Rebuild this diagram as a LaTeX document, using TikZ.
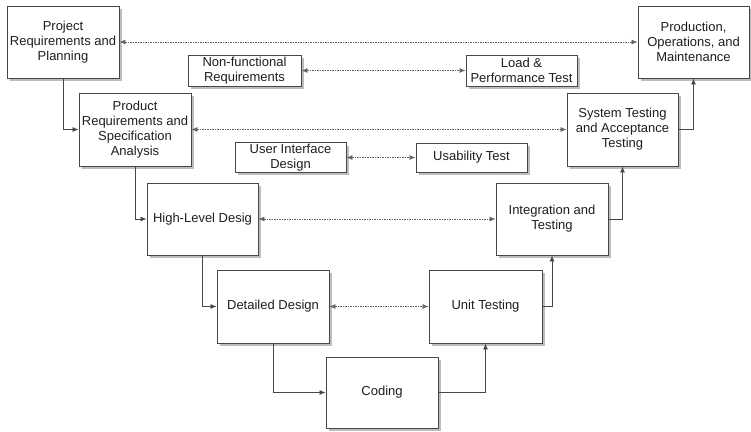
\documentclass[tikz,border=0pt]{standalone}
\usepackage{fontspec}
\setmainfont{Liberation Sans}
\usetikzlibrary{arrows.meta,shadows}
\definecolor{edge}{HTML}{474747}
\definecolor{shade}{HTML}{BDBDBD}
\definecolor{ink}{HTML}{1E1E1E}
\tikzset{
  stage/.style={draw=edge, line width=0.95pt, fill=white, rectangle, inner sep=1pt,
    align=center, text=ink, font=\fontsize{13}{15}\selectfont,
    drop shadow={shadow xshift=2.6pt, shadow yshift=-2.6pt, fill=shade, opacity=1}},
  tip/.style={Latex[length=6pt,width=5pt]},
  flow/.style={draw=edge, line width=0.8pt, -{Latex[length=6pt,width=5pt]}},
  link/.style={draw=edge!85, line width=0.7pt, dash pattern=on 1.6pt off 0.9pt,
    {Latex[length=6pt,width=5pt]}-{Latex[length=6pt,width=5pt]}}
}
% a box from its left, top, right and bottom edges
\newcommand\stagebox[6]{%
  \node[stage, minimum width={#4-#2}, minimum height={#5-#3}] (#1) at ({(#2+#4)/2},{(#3+#5)/2}) {#6};}
\begin{document}
\begin{tikzpicture}[x=1pt,y=-1pt]
\useasboundingbox (0,0) rectangle (751,431);
% left leg: definition
\stagebox{proj}{7}{6}{119}{78}{Project\\Requirements and\\Planning}
\stagebox{prod}{79}{93}{191}{166}{Product\\Requirements and\\Specification\\Analysis}
\stagebox{high}{147}{183}{258}{255}{High-Level Desig}
\stagebox{det}{217}{270}{329}{343}{Detailed Design}
\stagebox{cod}{326}{357}{438}{428}{Coding}
% right leg: verification
\stagebox{unit}{429}{270}{542}{343}{Unit Testing}
\stagebox{integ}{496}{183}{608}{255}{Integration and\\Testing}
\stagebox{sys}{567}{93}{678}{166}{System Testing\\and Acceptance\\Testing}
\stagebox{prodn}{638}{6}{749}{78}{Production,\\Operations, and\\Maintenance}
% inner pairs
\stagebox{nfr}{188}{55}{301}{86}{Non-functional\\Requirements}
\stagebox{load}{466}{55}{577}{86}{Load \&\\Performance Test}
\stagebox{ui}{235}{143}{346}{172}{User Interface\\Design}
\stagebox{usab}{416}{143}{527}{172}{Usability Test}
% process flow
\draw[flow] (proj.south) |- (prod.west);
\draw[flow] (prod.south) |- (high.west);
\draw[flow] (high.south) |- (det.west);
\draw[flow] (det.south) |- (cod.west);
\draw[flow] (cod.east) -| (unit.south);
\draw[flow] (unit.east) -| (integ.south);
\draw[flow] (integ.east) -| (sys.south);
\draw[flow] (sys.east) -| (prodn.south);
% correspondences
\draw[link] (proj.east) -- (prodn.west);
\draw[link] (nfr.east) -- (load.west);
\draw[link] (prod.east) -- (sys.west);
\draw[link] (ui.east) -- (usab.west);
\draw[link] (high.east) -- (integ.west);
\draw[link] (det.east) -- (unit.west);
\end{tikzpicture}
\end{document}
